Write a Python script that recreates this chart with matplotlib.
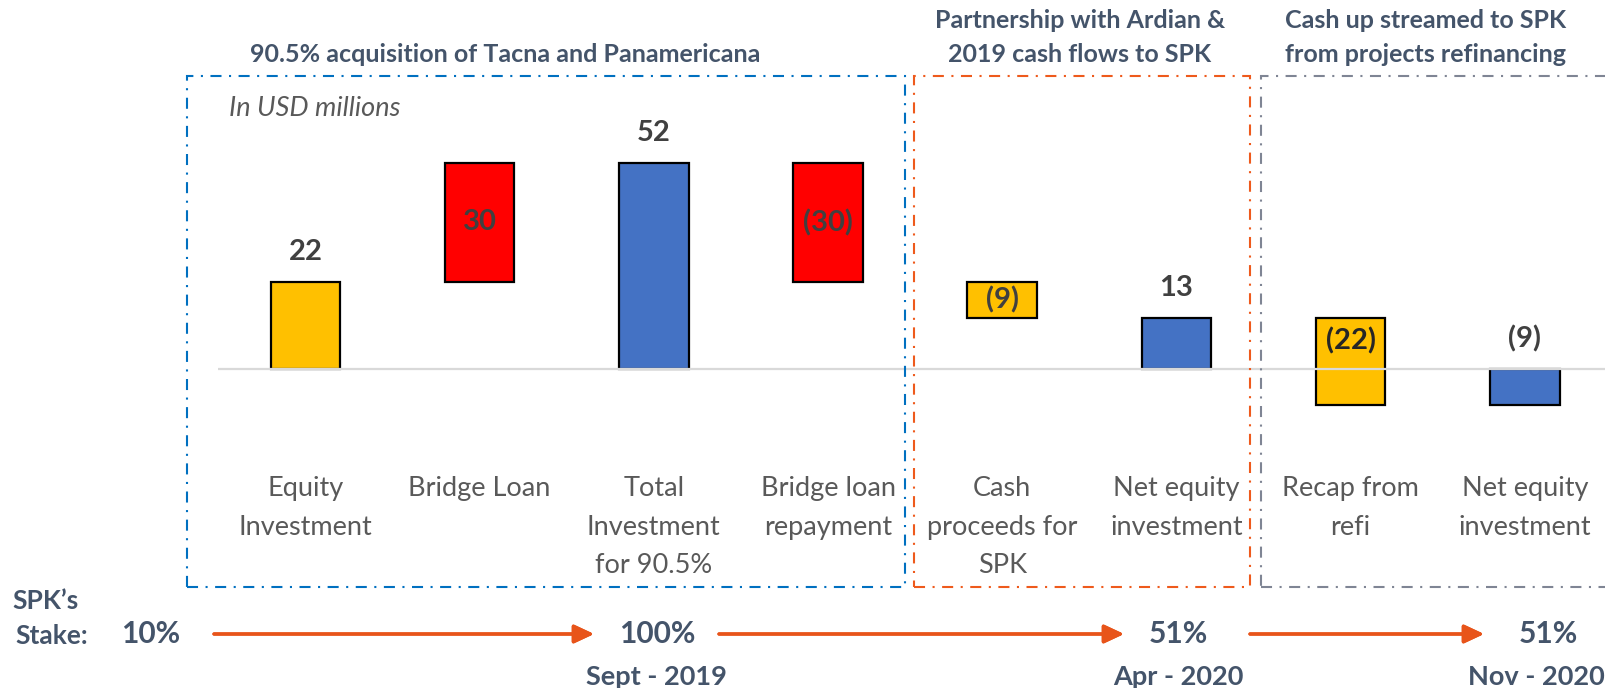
import matplotlib.pyplot as plt
from matplotlib.patches import Rectangle

plt.rcParams['font.family'] = ['Lato', 'DejaVu Sans']

# chart data (USD millions)
categories = ['Equity\nInvestment', 'Bridge Loan', 'Total\nInvestment\nfor 90.5%', 'Bridge loan\nrepayment',
              'Cash\nproceeds for\nSPK', 'Net equity\ninvestment', 'Recap from\nrefi', 'Net equity\ninvestment']
starts = [0, 22, 0, 52, 22, 0, 13, 0]
values = [22, 30, 52, -30, -9, 13, -22, -9]
labels = ['22', '30', '52', '(30)', '(9)', '13', '(22)', '(9)']
label_pos = ['out', 'in', 'out', 'in', 'in', 'out', 'top', 'out']
colors = ['#FFC000', '#FF0000', '#4472C4', '#FF0000', '#FFC000', '#4472C4', '#FFC000', '#4472C4']

phases = ['90.5% acquisition of Tacna and Panamericana',
          'Partnership with Ardian &\n2019 cash flows to SPK',
          'Cash up streamed to SPK\nfrom projects refinancing']
stakes = ['10%', '100%', '51%', '51%']
dates = ['', 'Sept - 2019', 'Apr - 2020', 'Nov - 2020']

W, H = 1606, 688
dark = '#44546A'


def fx(px):
    return px / W


def fy(py):
    return 1 - py / H


fig = plt.figure(figsize=(W / 100, H / 100), dpi=100)
ax = fig.add_axes([fx(218), 0, 1 - fx(218), 1])
ax.set_xlim(-0.502, 7.466)
ax.set_ylim(-80.56, 93.18)
ax.axis('off')

x = list(range(len(values)))
ax.bar(x, values, bottom=starts, width=0.40, color=colors, edgecolor='black', linewidth=1.6, zorder=2)
ax.axhline(0, color='#D9D9D9', linewidth=1.6, zorder=3)

# value labels
for i in x:
    lo = min(starts[i], starts[i] + values[i])
    hi = max(starts[i], starts[i] + values[i])
    if label_pos[i] == 'out':
        y = hi + 7.5
    elif label_pos[i] == 'top':
        y = hi - 6.0
    else:
        y = (lo + hi) / 2
    col = '#262626' if label_pos[i] == 'top' else '#404040'
    ax.text(i, y, labels[i], ha='center', va='center', fontsize=21, fontweight='bold', color=col, zorder=4)

# category labels
for i, c in enumerate(categories):
    ax.text(i, fy(476), c, transform=ax.get_xaxis_transform(), ha='center', va='top',
            fontsize=19.5, color='#595959', linespacing=1.68)

ax.text(fx(229), fy(108), 'In USD millions', transform=fig.transFigure, ha='left', va='center',
        fontsize=19.5, style='italic', color='#595959')

# phase boxes
boxes = [(187, 905, '#0070C0'), (914, 1250, '#EE5A1C'), (1261, 1640, '#7F8594')]
for (x0, x1, col) in boxes:
    r = Rectangle((fx(x0), fy(587)), fx(x1) - fx(x0), fy(76) - fy(587), transform=fig.transFigure,
                  fill=False, edgecolor=col, linewidth=1.5, linestyle=(0, (5.3, 3.6, 1, 3.6)), clip_on=False)
    fig.patches.append(r)

phase_x = [505, 1080, 1426]
for px, t in zip(phase_x, phases):
    py = 54 - 16.5 * t.count('\n')
    fig.text(fx(px), fy(py), t, ha='center', va='center', fontsize=18, fontweight='bold',
             color=dark, linespacing=1.62)

# stake timeline
fig.text(fx(46), fy(601), 'SPK\u2019s', ha='center', va='center', fontsize=19, fontweight='bold', color=dark)
fig.text(fx(52), fy(636), 'Stake:', ha='center', va='center', fontsize=19, fontweight='bold', color=dark)
stake_x = [151, 657, 1178, 1548]
date_x = [151, 656, 1178, 1536]
for px, dx, s, d in zip(stake_x, date_x, stakes, dates):
    fig.text(fx(px), fy(634), s, ha='center', va='center', fontsize=21.5, fontweight='bold', color=dark)
    fig.text(fx(dx), fy(677), d, ha='center', va='center', fontsize=19.5, fontweight='bold', color=dark)

arrows = [(214, 594), (719, 1124), (1250, 1484)]
for (a, b) in arrows:
    fig.add_artist(plt.annotate('', xy=(fx(b), fy(634)), xytext=(fx(a), fy(634)), xycoords='figure fraction',
                                arrowprops=dict(arrowstyle='-|>,head_length=0.6,head_width=0.28', color='#E8541A',
                                                lw=2.4, mutation_scale=20, shrinkA=0, shrinkB=0)))

fig.savefig('out.png', dpi=100)
